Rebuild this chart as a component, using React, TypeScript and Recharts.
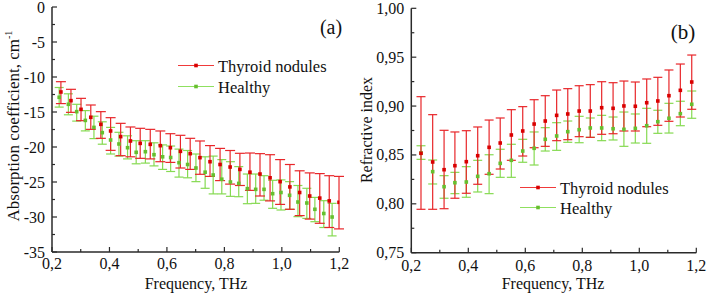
import React from 'react';
import { ScatterChart, Scatter, XAxis, YAxis, ErrorBar, Legend } from 'recharts';

// ---------- Panel (a): absorption coefficient ----------
const absNodFreq = [0.231, 0.266, 0.301, 0.335, 0.370, 0.404, 0.439, 0.473, 0.507, 0.542, 0.577, 0.612, 0.647, 0.681, 0.715, 0.750, 0.785, 0.820, 0.854, 0.889, 0.924, 0.959, 0.994, 1.028, 1.062, 1.097, 1.132, 1.165, 1.199];
const absNodVal = [-12.14, -13.38, -14.62, -15.76, -16.76, -17.71, -18.52, -19.14, -19.48, -19.62, -19.81, -20.1, -20.62, -20.95, -21.52, -22.1, -22.5, -22.86, -23.2, -23.6, -23.86, -24.4, -24.95, -25.7, -26.5, -27.0, -27.3, -27.7, -27.9];
const absNodHigh = [-10.67, -11.76, -13.05, -14.0, -14.95, -15.81, -16.62, -17.14, -17.33, -17.48, -17.71, -18.1, -18.33, -18.76, -19.14, -19.8, -20.2, -20.5, -20.9, -20.86, -20.95, -21.1, -21.8, -22.5, -23.4, -23.7, -23.8, -24.1, -24.2];
const absNodLow = [-13.8, -15.05, -16.24, -17.48, -18.76, -20.48, -21.24, -21.4, -21.62, -21.7, -22.1, -22.2, -23.0, -23.2, -23.9, -24.2, -24.8, -25.3, -25.5, -26.2, -27.0, -27.7, -28.2, -28.9, -29.8, -30.3, -30.9, -31.5, -31.7];

const absHeaFreq = [0.225, 0.257, 0.286, 0.316, 0.346, 0.375, 0.404, 0.433, 0.463, 0.493, 0.525, 0.555, 0.585, 0.613, 0.642, 0.672, 0.701, 0.733, 0.761, 0.791, 0.821, 0.850, 0.880, 0.909, 0.938, 0.968, 0.997, 1.027, 1.056, 1.087, 1.115, 1.146, 1.175];
const absHeaVal = [-12.9, -13.9, -14.95, -16.2, -17.2, -17.95, -19.0, -19.57, -20.1, -20.76, -20.67, -21.1, -21.4, -21.5, -22.24, -22.5, -23.0, -23.6, -24.0, -24.6, -25.0, -25.2, -25.95, -26.05, -26.05, -26.67, -26.5, -26.9, -27.86, -28.0, -28.9, -29.5, -30.0];
const absHeaHigh = [-11.5, -12.4, -13.9, -14.8, -15.6, -16.4, -17.2, -17.9, -18.4, -19.1, -19.1, -19.4, -19.7, -19.86, -20.3, -20.5, -21.0, -21.4, -21.3, -21.8, -22.1, -22.8, -23.86, -23.86, -24.1, -24.76, -24.7, -24.95, -25.5, -25.9, -27.2, -27.67, -28.05];
const absHeaLow = [-14.3, -15.4, -16.3, -17.7, -18.8, -19.6, -21.0, -21.3, -21.7, -22.4, -22.3, -22.7, -23.2, -23.5, -24.3, -24.4, -24.95, -25.9, -26.7, -26.7, -27.05, -27.1, -28.1, -28.05, -27.6, -28.76, -29.0, -28.9, -29.95, -30.2, -30.67, -31.5, -32.7];

// ---------- Panel (b): refractive index ----------
const riFreq = [0.234, 0.275, 0.315, 0.353, 0.393, 0.433, 0.473, 0.512, 0.551, 0.591, 0.631, 0.670, 0.710, 0.749, 0.789, 0.828, 0.868, 0.908, 0.946, 0.986, 1.026, 1.065, 1.104, 1.144, 1.184];
const riNodVal = [0.8517, 0.8428, 0.8349, 0.839, 0.8431, 0.8492, 0.8578, 0.8622, 0.8704, 0.8745, 0.8816, 0.8847, 0.8905, 0.8919, 0.8949, 0.8949, 0.8983, 0.8977, 0.9001, 0.8998, 0.9034, 0.9052, 0.9106, 0.9161, 0.9246];
const riNodHigh = [0.9096, 0.8912, 0.8752, 0.8735, 0.8748, 0.8786, 0.8857, 0.8878, 0.8963, 0.8994, 0.9065, 0.9106, 0.9164, 0.9178, 0.9208, 0.9219, 0.9249, 0.9239, 0.9256, 0.9246, 0.9277, 0.9294, 0.9369, 0.943, 0.9522];
const riNodLow = [0.7944, 0.7944, 0.795, 0.8057, 0.8108, 0.82, 0.8302, 0.8356, 0.8445, 0.8489, 0.8574, 0.8588, 0.8646, 0.8656, 0.8687, 0.868, 0.8711, 0.8717, 0.8745, 0.8745, 0.8789, 0.8803, 0.8844, 0.8888, 0.8967];
const riHeaVal = [0.852, 0.8329, 0.8175, 0.8216, 0.8223, 0.8281, 0.8308, 0.8414, 0.8445, 0.854, 0.8568, 0.866, 0.8694, 0.8738, 0.8758, 0.8776, 0.8776, 0.8768, 0.8762, 0.8772, 0.8799, 0.884, 0.8875, 0.8922, 0.9018];
const riHeaHigh = [0.8594, 0.8448, 0.8288, 0.8322, 0.838, 0.8445, 0.8502, 0.8558, 0.8609, 0.866, 0.8735, 0.8779, 0.883, 0.8847, 0.8895, 0.8878, 0.8905, 0.8888, 0.8939, 0.8919, 0.8977, 0.8957, 0.9028, 0.9049, 0.9154];
const riHeaLow = [0.8455, 0.8203, 0.8057, 0.8104, 0.8067, 0.8121, 0.8104, 0.8271, 0.8271, 0.8425, 0.8397, 0.854, 0.8547, 0.8629, 0.8625, 0.868, 0.8646, 0.8653, 0.8588, 0.8622, 0.8619, 0.8721, 0.8724, 0.8799, 0.8875];

// ---------- Axes ----------
const freqTicks = [0.2, 0.3, 0.4, 0.5, 0.6, 0.7, 0.8, 0.9, 1.0, 1.1, 1.2];
const absTicks = [0, -2.5, -5, -7.5, -10, -12.5, -15, -17.5, -20, -22.5, -25, -27.5, -30, -32.5, -35];
const riTicks = [0.75, 0.775, 0.8, 0.825, 0.85, 0.875, 0.9, 0.925, 0.95, 0.975, 1.0];

const seriesNames = ['Thyroid nodules', 'Healthy'];
const xTitle = 'Frequency, THz';
const absTitle = 'Absorption coefficient, cm';
const absTitleSup = '-1';
const riTitle = 'Refractive index';

const FONT = '"Liberation Serif", "Times New Roman", serif';
const RED_BAR = '#e8262a';
const RED_MARK = '#d90000';
const GREEN_BAR = '#86da52';
const GREEN_MARK = '#66bf2e';
const AXIS = '#2a2a2a';

function build(freq: number[], val: number[], high: number[], low: number[]) {
  return freq.map((f, i) => ({ f, v: val[i], err: [val[i] - low[i], high[i] - val[i]] }));
}

const absNod = build(absNodFreq, absNodVal, absNodHigh, absNodLow);
const absHea = build(absHeaFreq, absHeaVal, absHeaHigh, absHeaLow);
const riNod = build(riFreq, riNodVal, riNodHigh, riNodLow);
const riHea = build(riFreq, riHeaVal, riHeaHigh, riHeaLow);

const square = (color: string) => (p: any) => {
  const { cx, cy } = p;
  if (cx == null || cy == null) return <g />;
  return <rect x={cx - 1.8} y={cy - 1.8} width={3.6} height={3.6} fill={color} />;
};

const makeXTick = (labelDy: number) => (p: any) => {
  const { x, y, payload } = p;
  const v = payload.value as number;
  const major = Math.round(v * 10) % 2 === 0;
  return (
    <g>
      <line x1={x} x2={x} y1={y} y2={y - (major ? 5 : 3)} stroke={AXIS} strokeWidth={1.2} />
      {major && (
        <text x={x} y={y + labelDy + 5.5} textAnchor="middle" fontFamily={FONT} fontSize={16} fill="#111">
          {v.toFixed(1).replace('.', ',')}
        </text>
      )}
    </g>
  );
};

const makeYTick = (isMajor: (v: number) => boolean, fmt: (v: number) => string) => (p: any) => {
  const { x, y, payload } = p;
  const v = payload.value as number;
  const major = isMajor(v);
  return (
    <g>
      <line x1={x} x2={x + (major ? 5 : 3)} y1={y} y2={y} stroke={AXIS} strokeWidth={1.2} />
      {major && (
        <text x={x - 7} y={y + 5.5} textAnchor="end" fontFamily={FONT} fontSize={16} fill="#111">
          {fmt(v)}
        </text>
      )}
    </g>
  );
};

const absYTick = makeYTick((v) => Math.abs(v % 5) < 1e-6, (v) => String(v));
const riYTick = makeYTick((v) => Math.round(v * 1000) % 50 === 0, (v) => v.toFixed(2).replace('.', ','));

const LegendBox = ({ gap }: { gap: number }) => (
  <svg width={170} height={48} style={{ overflow: 'visible', display: 'block' }}>
    {seriesNames.map((name, i) => {
      const y = 11.5 + i * gap;
      const lc = i === 0 ? '#f03a3a' : '#8fe060';
      const mc = i === 0 ? RED_MARK : GREEN_MARK;
      return (
        <g key={name}>
          <line x1={1} x2={37} y1={y} y2={y} stroke={lc} strokeWidth={1.2} />
          <rect x={19 - 1.8} y={y - 1.8} width={3.6} height={3.6} fill={mc} />
          <text x={41} y={y + 6} fontFamily={FONT} fontSize={16.5} fill="#111">{name}</text>
        </g>
      );
    })}
  </svg>
);

const divText = (cx: number, cy: number, size: number, rotate = false): React.CSSProperties => ({
  position: 'absolute',
  left: cx,
  top: cy,
  transform: `translate(-50%, -50%)${rotate ? ' rotate(-90deg)' : ''}`,
  fontFamily: FONT,
  fontSize: size,
  lineHeight: 1,
  whiteSpace: 'nowrap',
  color: '#111',
});

export default function App() {
  return (
    <div style={{ position: 'absolute', left: 0, top: 0, width: 708, height: 295, background: '#fff', overflow: 'hidden' }}>
      <div style={{ position: 'absolute', left: 0, top: 0 }}>
        <ScatterChart width={354} height={295} margin={{ top: 7, right: 14.7, left: 12, bottom: 3 }}>
          <XAxis type="number" dataKey="f" domain={[0.2, 1.2]} ticks={freqTicks} interval={0}
            allowDataOverflow height={40} tickSize={0} tickMargin={0} tickLine={false}
            axisLine={{ stroke: AXIS, strokeWidth: 1.5 }} tick={makeXTick(11)} />
          <YAxis type="number" dataKey="v" domain={[-35, 0]} ticks={absTicks} interval={0}
            allowDataOverflow width={40} tickSize={0} tickMargin={0} tickLine={false}
            axisLine={{ stroke: AXIS, strokeWidth: 1.5 }} tick={absYTick} />
          <Legend layout="horizontal" verticalAlign="middle" align="center"
            wrapperStyle={{ position: 'absolute', left: 177, top: 54, width: 170, height: 48 }}
            content={() => <LegendBox gap={21} />} />
          <Scatter name={seriesNames[1]} data={absHea} shape={square(GREEN_MARK)} isAnimationActive={false} fill={GREEN_MARK}>
            <ErrorBar dataKey="err" direction="y" width={4.5} stroke={GREEN_BAR} strokeWidth={1.2} isAnimationActive={false} />
          </Scatter>
          <Scatter name={seriesNames[0]} data={absNod} shape={square(RED_MARK)} isAnimationActive={false} fill={RED_MARK}>
            <ErrorBar dataKey="err" direction="y" width={5} stroke={RED_BAR} strokeWidth={1.2} isAnimationActive={false} />
          </Scatter>
        </ScatterChart>
      </div>
      <div style={{ position: 'absolute', left: 354, top: 0 }}>
        <ScatterChart width={354} height={295} margin={{ top: 8.3, right: 11.7, left: 12.3, bottom: 2.3 }}>
          <XAxis type="number" dataKey="f" domain={[0.2, 1.2]} ticks={freqTicks} interval={0}
            allowDataOverflow height={40} tickSize={0} tickMargin={0} tickLine={false}
            axisLine={{ stroke: AXIS, strokeWidth: 1.5 }} tick={makeXTick(13)} />
          <YAxis type="number" dataKey="v" domain={[0.75, 1.0]} ticks={riTicks} interval={0}
            allowDataOverflow width={45} tickSize={0} tickMargin={0} tickLine={false}
            axisLine={{ stroke: AXIS, strokeWidth: 1.5 }} tick={riYTick} />
          <Legend layout="horizontal" verticalAlign="middle" align="center"
            wrapperStyle={{ position: 'absolute', left: 165, top: 176, width: 170, height: 48 }}
            content={() => <LegendBox gap={20} />} />
          <Scatter name={seriesNames[1]} data={riHea} shape={square(GREEN_MARK)} isAnimationActive={false} fill={GREEN_MARK}>
            <ErrorBar dataKey="err" direction="y" width={4.5} stroke={GREEN_BAR} strokeWidth={1.2} isAnimationActive={false} />
          </Scatter>
          <Scatter name={seriesNames[0]} data={riNod} shape={square(RED_MARK)} isAnimationActive={false} fill={RED_MARK}>
            <ErrorBar dataKey="err" direction="y" width={4.5} stroke={RED_BAR} strokeWidth={1.2} isAnimationActive={false} />
          </Scatter>
        </ScatterChart>
      </div>
      <div style={divText(196, 284, 16)}>{xTitle}</div>
      <div style={divText(553, 284, 16)}>{xTitle}</div>
      <div style={divText(12.5, 126, 17, true)}>
        {absTitle}<sup style={{ fontSize: '0.6em', verticalAlign: '0.7em' }}>{absTitleSup}</sup>
      </div>
      <div style={divText(367, 130, 16, true)}>{riTitle}</div>
      <div style={divText(331, 26.5, 20)}>(a)</div>
      <div style={divText(683, 32, 21)}>(b)</div>
    </div>
  );
}
